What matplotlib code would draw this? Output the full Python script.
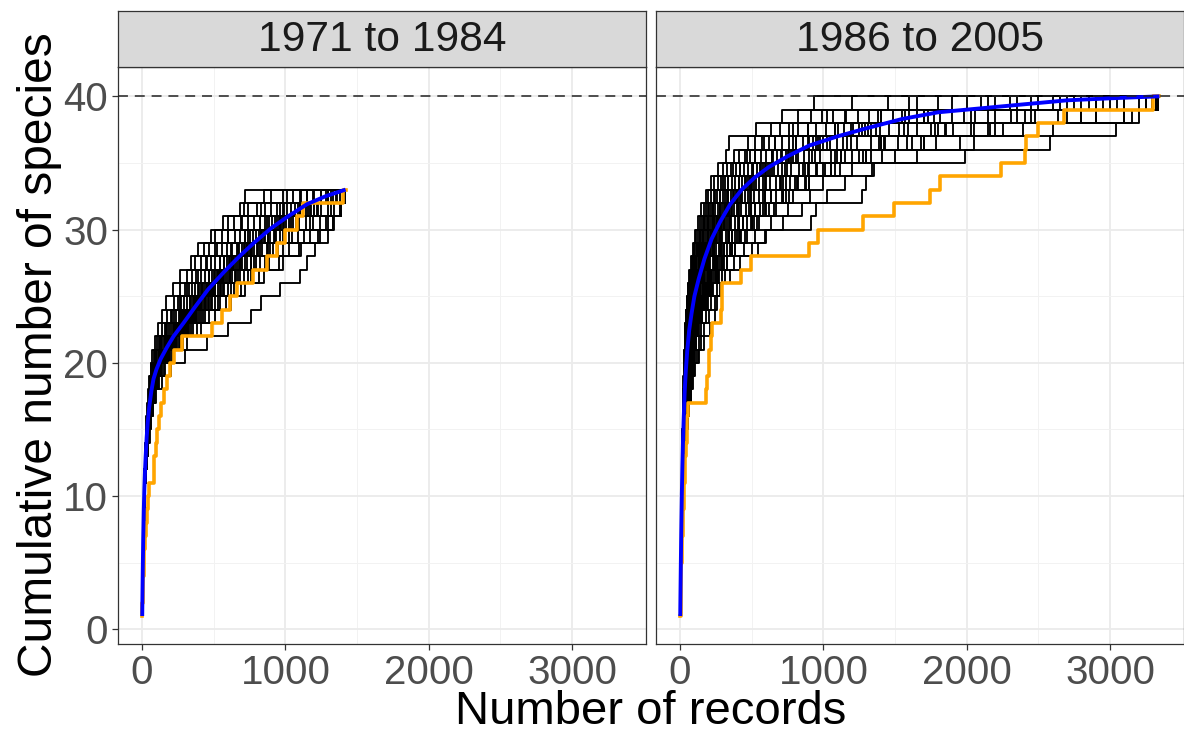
import matplotlib
matplotlib.use("Agg")
import matplotlib.pyplot as plt

# ---------------- data ----------------
panel_titles = ["1971 to 1984", "1986 to 2005"]
total_records = [1420, 3345]
total_species_line = 40

x_ticks = [0, 1000, 2000, 3000]
y_ticks = [0, 10, 20, 30, 40]

# Left panel random accumulation curves: record at which species k is first reached.
# Species 1-11 (start of each curve)
left_start = {
    "a": [1,2,3,4,5,6,7,8,10,12,14],
    "b": [1,2,3,4,5,7,8,10,11,13,15],
    "c": [1,2,3,4,6,7,9,11,12,14,16],
    "d": [1,2,3,5,6,8,9,11,13,15,17],
    "e": [1,2,4,5,7,8,10,12,14,16,18],
    "f": [1,2,4,6,8,10,12,14,17,20,23],
}
# Species 12-33
left_rest = [
    ("a", [16,19,22,26,30,36,42,50,60,70,90,110,140,165,215,265,340,390,480,565,680,720]),
    ("a", [17,20,24,28,33,40,48,57,68,88,118,160,200,250,300,350,410,470,560,640,740,900]),
    ("b", [18,21,25,30,35,42,52,64,80,105,142,190,240,295,350,410,480,560,650,740,860,1050]),
    ("b", [17,22,26,31,37,45,55,68,85,115,155,205,255,310,370,440,510,590,680,780,900,1150]),
    ("c", [19,22,27,32,38,46,57,70,88,120,165,220,270,335,395,470,545,620,720,820,960,1100]),
    ("b", [18,22,27,32,38,47,58,72,92,128,172,230,285,350,415,490,575,660,750,860,990,1200]),
    ("c", [19,23,28,33,39,48,59,74,96,135,180,240,300,370,440,520,605,695,795,905,1040,1250]),
    ("d", [19,23,28,33,39,48,60,75,100,140,190,255,315,390,460,545,635,730,835,955,1090,1280]),
    ("b", [18,24,29,34,40,47,62,77,98,145,185,260,320,380,470,540,640,720,850,940,1100,1350]),
    ("e", [20,24,29,35,41,50,63,79,105,147,200,268,330,410,483,572,667,767,877,1003,1145,1320]),
    ("d", [19,25,30,34,42,51,61,80,108,150,195,270,340,400,490,560,680,760,880,990,1160,1400]),
    ("e", [20,25,30,36,43,53,66,83,110,154,209,280,346,429,506,600,700,803,918,1050,1199,1380]),
    ("d", [21,24,31,37,42,52,68,85,112,150,215,285,340,440,500,610,690,810,930,1040,1220,1410]),
    ("e", [21,26,32,38,45,55,69,86,115,161,218,293,362,448,529,627,730,840,960,1098,1250,1400]),
    ("e", [22,27,33,40,47,58,72,90,120,168,228,306,378,468,552,654,762,876,1000,1146,1300,1417]),
    ("d", [22,28,35,41,49,60,75,94,125,175,238,319,394,488,575,681,794,912,1044,1194,1340,1410]),
    ("e", [23,29,36,43,51,62,78,98,130,182,247,330,410,507,598,708,825,949,1085,1240,1380,1417]),
    ("e", [25,31,38,46,55,67,84,105,140,196,266,357,441,546,644,763,889,1022,1170,1300,1390,1417]),
    ("f", [26,33,41,48,58,72,90,112,150,210,285,380,470,585,690,818,952,1095,1230,1330,1385,1417]),
    ("f", [30,36,44,52,62,78,100,140,200,300,450,600,760,830,960,1100,1150,1210,1300,1335,1385,1417]),
    ("a", [17,21,25,29,34,41,50,62,76,100,135,175,225,275,330,390,450,520,600,690,800,980]),
    ("c", [19,21,26,31,37,44,56,70,90,125,170,235,280,360,410,500,570,670,740,870,980,1150]),
    ("d", [19,23,27,34,39,49,61,74,101,138,192,250,318,392,455,550,630,735,830,960,1200,1417]),
    ("e", [22,26,32,39,46,57,70,88,118,165,225,300,370,460,545,650,760,870,980,1090,1180,1300]),
    ("a", [16,19,23,27,31,38,45,54,64,80,105,140,175,220,265,315,370,430,510,600,710,850]),
    ("e", [24,30,37,44,53,65,81,101,135,189,257,344,425,527,621,736,857,986,1127,1280,1380,1417]),
    ("c", [20,24,29,34,40,50,62,78,103,143,196,262,325,402,474,562,654,752,860,984,1123,1330]),
    ("b", [18,22,26,31,36,44,55,69,92,130,177,237,293,363,428,507,591,679,777,888,1014,1190]),
    ("c", [20,23,27,33,38,46,58,71,95,132,186,248,300,378,452,530,615,712,818,930,1070,1250]),
    ("d", [21,25,31,36,44,54,65,84,112,158,212,284,352,437,512,612,716,820,937,1072,1230,1400]),
    ("b", [17,21,25,29,35,43,52,65,84,118,160,215,268,332,392,466,545,625,715,820,940,1110]),
    ("e", [23,28,34,40,48,59,73,92,124,172,234,312,386,478,565,668,778,895,1022,1170,1320,1417]),
    ("a", [16,20,24,28,32,39,47,58,72,95,128,170,212,262,316,378,444,512,600,700,830,1010]),
    ("f", [27,34,42,50,60,74,93,118,160,225,310,410,510,620,720,850,980,1110,1240,1340,1390,1417]),
    ("c", [19,22,28,32,39,47,61,73,99,141,185,258,310,395,455,550,628,740,828,968,1100,1300]),
    ("d", [20,24,30,35,41,51,64,80,106,149,204,272,338,419,494,585,682,784,896,1025,1170,1360]),
]

# Right panel random accumulation curves: record at which species k (1..40) is first reached
right_black = [
    [1,2,3,4,5,6,7,8,9,10,11,12,13,15,16,18,20,22,24,27,30,33,37,41,46,52,60,73,87,102,124,148,178,216,268,318,341,527,710,933],
    [1,2,3,4,5,6,7,8,9,10,11,12,14,15,17,19,21,23,25,28,31,34,38,43,52,62,74,89,106,125,151,180,217,264,327,413,523,700,910,1450],
    [1,2,3,4,5,6,7,8,10,11,12,13,14,16,18,20,22,24,27,30,33,37,41,48,57,67,81,97,116,136,165,197,237,288,357,450,570,760,990,1900],
    [1,2,3,4,5,6,7,8,9,11,12,13,15,16,18,20,22,25,28,31,35,39,44,51,61,73,88,105,125,148,179,213,257,312,387,488,618,826,1070,2200],
    [1,2,3,4,5,6,7,9,10,11,13,14,15,17,19,21,23,26,29,32,36,40,46,55,66,78,95,113,135,159,193,230,277,336,417,525,665,890,1155,2450],
    [1,2,3,4,5,6,8,9,10,12,13,14,16,18,20,22,24,27,30,33,37,42,48,59,71,84,101,122,145,170,206,246,296,360,446,563,713,950,1240,2100],
    [1,2,3,4,5,7,8,9,11,12,13,15,16,18,20,22,25,28,31,34,38,45,51,62,75,90,108,130,154,182,220,262,316,384,476,600,760,1016,1320,2700],
    [1,2,3,4,6,7,8,10,11,12,14,15,17,19,21,23,26,29,32,35,40,48,54,66,80,95,115,138,164,193,234,279,336,408,506,638,808,1080,1400,2300],
    [1,2,3,4,5,6,8,9,10,12,13,15,17,19,21,23,26,29,32,37,42,50,58,70,85,101,122,146,174,204,248,295,356,432,536,675,855,1143,1485,2600],
    [1,2,3,4,5,7,8,9,11,12,14,15,17,19,21,24,27,30,34,39,45,53,61,74,89,106,128,154,183,216,261,312,375,456,565,713,903,1207,1568,2900],
    [1,2,3,4,5,6,7,8,10,11,12,14,16,18,21,24,27,31,36,41,47,56,64,78,94,112,135,162,193,227,275,328,395,480,595,750,950,1270,1650,2500],
    [1,2,3,4,6,7,8,9,10,12,13,14,16,19,20,23,28,30,35,42,46,58,63,80,92,115,132,165,190,232,270,335,390,490,580,760,930,1290,1700,3100],
    [1,2,3,4,5,6,7,9,10,11,13,15,17,19,22,25,28,33,38,43,49,59,67,82,99,118,142,170,203,238,289,344,415,504,625,788,998,1334,1733,2750],
    [1,2,3,4,5,7,8,9,10,12,13,15,18,20,23,26,30,34,40,45,52,62,70,86,103,123,149,178,212,250,303,361,435,528,655,825,1045,1397,1815,3000],
    [1,2,3,4,5,6,8,9,11,12,14,16,18,21,24,28,31,36,41,47,54,64,74,90,108,129,155,186,222,261,316,377,454,552,684,863,1093,1460,1900,3200],
    [1,2,3,4,6,7,8,10,11,13,14,17,19,22,25,29,32,37,43,49,56,67,77,94,113,134,162,194,232,272,330,394,474,576,714,900,1140,1524,1980,2850],
    [1,2,3,4,5,7,8,10,12,13,15,18,21,23,27,31,35,40,47,53,61,73,83,101,122,146,176,211,251,295,358,426,514,624,774,975,1235,1650,2145,3250],
    [1,2,3,4,6,7,9,10,12,14,16,19,22,25,29,34,38,43,50,57,66,78,90,109,132,157,189,227,270,318,385,459,553,672,833,1050,1330,1778,2310,3300],
    [1,2,3,5,6,8,9,11,13,15,17,20,24,27,31,36,40,46,54,61,70,84,96,117,141,168,202,243,289,340,412,492,592,720,892,1125,1425,1905,2475,3320],
    [1,2,3,5,7,8,10,12,14,16,19,22,26,30,35,40,45,52,61,70,80,95,109,133,160,190,229,275,328,386,467,558,671,816,1011,1275,1615,2159,2800,3335],
    [1,2,4,5,7,9,11,13,15,18,21,25,29,34,40,47,55,65,80,100,130,170,210,246,258,282,294,330,543,602,911,946,1270,1300,1338,1990,2583,3045,3200,3335],
    [1,2,4,6,7,9,11,13,16,18,21,25,30,34,40,46,52,60,70,82,94,112,128,150,180,215,260,300,360,420,500,600,720,870,1050,1300,1700,2200,2900,3330],
    [1,2,3,4,5,6,7,9,10,11,13,14,16,18,20,25,26,32,35,40,48,55,66,76,96,110,137,160,195,222,280,320,400,470,600,740,960,1250,1600,2000],
    [1,2,3,4,5,6,7,8,9,11,12,14,15,17,19,22,24,28,31,36,41,47,55,68,78,97,113,140,162,196,230,282,330,410,500,650,790,1100,1380,1800],
    [1,2,3,4,5,7,8,10,11,13,15,17,20,23,26,30,34,39,45,51,59,70,80,98,117,140,170,202,240,285,345,410,495,600,745,940,1190,1590,2060,2950],
    [1,2,3,4,5,6,7,8,9,10,12,13,15,16,18,20,22,25,28,31,35,39,45,54,65,79,94,112,136,160,192,229,276,337,416,526,664,890,1150,1600],
    [1,2,3,5,6,8,10,12,14,16,18,21,25,29,33,38,43,50,58,66,75,90,102,125,150,179,216,259,309,363,440,525,632,768,952,1200,1520,2032,2640,3330],
    [1,2,3,4,5,6,7,8,9,10,11,12,13,14,16,17,19,21,23,25,28,31,35,40,47,56,68,81,97,114,138,164,198,240,298,375,475,635,825,1200],
    [1,2,3,4,5,6,7,8,10,11,12,14,16,18,20,23,26,30,34,39,44,52,60,73,88,105,126,152,181,213,258,308,370,450,558,703,890,1190,1550,2350],
    [1,2,3,4,5,7,8,9,11,12,14,16,18,20,23,26,29,33,38,44,50,60,69,84,101,121,146,175,208,244,296,353,425,517,640,807,1022,1366,1775,2800],
    [1,2,3,4,6,7,8,10,11,13,15,17,19,22,25,28,32,37,43,50,57,68,78,96,115,138,166,199,237,279,338,404,486,590,732,923,1168,1562,2030,3050],
    [1,2,3,4,5,6,7,8,9,11,12,13,15,17,19,21,24,27,31,35,40,47,54,66,80,95,115,138,164,193,234,279,336,408,506,638,808,1080,1400,2150],
    [1,2,3,5,6,8,9,11,13,15,17,19,22,26,29,33,38,44,51,59,68,81,93,113,137,163,197,236,281,331,401,479,577,701,869,1095,1388,1854,2409,3290],
    [1,2,3,4,5,6,8,9,10,12,13,15,17,19,22,24,28,32,37,42,48,57,66,80,96,115,139,167,199,234,283,338,407,494,613,773,979,1308,1700,2650],
    [1,2,4,5,7,9,11,13,15,17,20,23,27,31,36,42,48,56,66,77,88,105,120,147,177,211,254,305,363,427,517,617,742,902,1119,1410,1786,2390,3100,3335],
    [1,2,3,4,5,6,7,8,9,10,11,13,14,16,17,19,21,23,26,29,32,36,41,48,58,69,83,100,119,140,170,203,245,298,369,465,589,787,1023,1650],
    [1,2,3,5,6,8,10,12,14,17,20,23,27,31,36,42,49,57,65,74,85,101,115,140,169,202,243,292,347,409,495,590,711,820,1000,1250,1580,2050,2700,3320],
    [1,2,4,5,7,9,11,13,16,19,22,26,30,35,41,48,56,64,73,82,94,112,128,156,188,224,270,324,386,454,550,656,790,900,1080,1330,1700,2250,2900,3335],
    [1,2,4,6,8,10,12,15,18,21,25,29,34,40,46,54,63,73,84,94,108,129,147,179,216,258,310,373,444,522,632,754,908,1000,1200,1500,1950,2500,3100,3335],
    [1,2,3,4,6,7,9,11,13,15,17,20,24,28,32,37,43,50,58,66,76,90,103,125,150,180,216,260,309,363,440,525,632,740,900,1120,1430,1850,2450,3250],
    [1,2,3,5,7,9,11,13,15,18,21,25,29,33,38,44,51,60,70,80,97,108,132,150,192,230,262,330,380,470,540,670,760,880,1050,1300,1680,2150,2800,3300],
    [1,2,3,4,6,8,10,12,14,16,19,22,26,30,35,41,48,56,64,72,88,99,118,138,172,198,250,286,352,400,500,580,720,800,950,1150,1400,1750,2200,2900],
    [1,2,4,6,8,10,13,16,19,22,26,30,35,41,48,56,65,75,90,107,122,146,166,203,244,291,351,421,502,590,715,853,1027,1150,1350,1650,2050,2600,3150,3335],
    [1,2,3,4,5,7,8,10,12,14,16,19,22,26,30,35,40,46,53,62,71,84,96,117,141,168,203,243,290,340,413,492,593,700,860,1080,1400,1800,2350,3100],
]

# Observed accumulation (orange): record at which species k is first reached
left_orange = [1,2,4,7,11,16,22,30,36,42,46,80,85,95,105,115,130,150,175,196,220,278,487,557,615,661,777,870,940,998,1079,1125,1404]
right_orange = [1,3,5,7,9,11,14,17,20,24,28,32,36,40,45,51,57,179,185,200,205,215,225,283,290,295,423,492,899,965,1278,1492,1741,1812,2239,2405,2415,2500,2680,3300]

# Mean accumulation (blue)
left_mean_x = [1,3,5,8,12,16,20,25,32,40,50,65,80,100,130,170,220,290,370,460,570,680,780,900,1020,1150,1280,1420]
left_mean_y = [1,2.9,4.6,6.8,9.0,10.6,11.8,13.0,14.4,15.6,16.7,17.9,18.8,19.5,20.3,21.1,22.0,23.0,24.2,25.5,26.8,28.0,29.0,30.1,31.0,31.9,32.5,33.0]
right_mean_x = [1,3,5,8,12,16,20,25,32,40,50,63,80,100,130,170,220,280,350,430,520,620,750,900,1100,1300,1550,1800,2100,2400,2700,3000,3345]
right_mean_y = [1,2.9,4.7,7.2,10.0,12.2,14.0,15.8,17.8,19.4,20.9,22.4,23.7,25.0,26.3,27.8,29.3,30.6,31.9,33.0,33.9,34.7,35.5,36.3,37.0,37.6,38.3,38.8,39.1,39.4,39.7,39.85,40.0]

left_black = [left_start[key] + rest for key, rest in left_rest]

panels = [
    (left_black, left_orange, left_mean_x, left_mean_y),
    (right_black, right_orange, right_mean_x, right_mean_y),
]

# ---------------- figure ----------------
W, H = 1184, 734
fig = plt.figure(figsize=(W / 100, H / 100), dpi=100)
plt.rcParams['font.family'] = ['Liberation Sans', 'DejaVu Sans']

def fx(px):
    return px / W

def fy(py):
    return 1 - py / H

panel_lefts = [118, 656]
panel_w = 528
top_px, bot_px = 67, 644
strip_top = 11

for i, (blacks, orange, mx, my) in enumerate(panels):
    L = panel_lefts[i]
    ax = fig.add_axes([fx(L), fy(bot_px), panel_w / W, (bot_px - top_px) / H])
    ax.set_xlim(-168, 3516)
    ax.set_ylim(-1.1, 42.2)
    ax.set_xticks(x_ticks)
    ax.set_yticks(y_ticks)
    ax.set_xticks([500, 1500, 2500], minor=True)
    ax.set_yticks([5, 15, 25, 35], minor=True)
    ax.grid(which='major', color='#EBEBEB', linewidth=1.3)
    ax.grid(which='minor', color='#F2F2F2', linewidth=0.7)
    ax.set_axisbelow(True)
    ax.tick_params(which='minor', length=0)
    ax.tick_params(which='major', length=4, width=0.9, color='#333333',
                   labelsize=29, labelcolor='#4D4D4D', pad=3)
    if i == 1:
        ax.tick_params(axis='y', labelleft=False, length=0)
    for sp in ax.spines.values():
        sp.set_color('#333333')
        sp.set_linewidth(0.9)

    end = total_records[i]
    for cur in blacks:
        xs = list(cur) + [end]
        ys = list(range(1, len(cur) + 1)) + [len(cur)]
        ax.step(xs, ys, where='post', color='black', linewidth=1.35, zorder=2)
    xs = list(orange) + [end]
    ys = list(range(1, len(orange) + 1)) + [len(orange)]
    ax.step(xs, ys, where='post', color='#FFA500', linewidth=2.6, zorder=3)
    ax.plot(mx, my, color='#0000FF', linewidth=2.8, zorder=4, solid_capstyle='butt')
    ax.axhline(total_species_line, color='#222222', linewidth=1.1,
               dashes=(6.5, 4.5), zorder=5)

    sax = fig.add_axes([fx(L), fy(top_px), panel_w / W, (top_px - strip_top) / H])
    sax.set_facecolor('#D9D9D9')
    sax.set_xticks([])
    sax.set_yticks([])
    for sp in sax.spines.values():
        sp.set_color('#333333')
        sp.set_linewidth(0.9)
    sax.text(0.5, 0.48, panel_titles[i], transform=sax.transAxes, ha='center',
             va='center', fontsize=30.6, color='#1A1A1A')

fig.text(fx(651), fy(712), "Number of records", ha='center', va='center',
         fontsize=34, color='black')
fig.text(fx(40), fy(355), "Cumulative number of species", ha='center',
         va='center', rotation=90, fontsize=34.5, color='black')

fig.savefig("out.png", dpi=100)
